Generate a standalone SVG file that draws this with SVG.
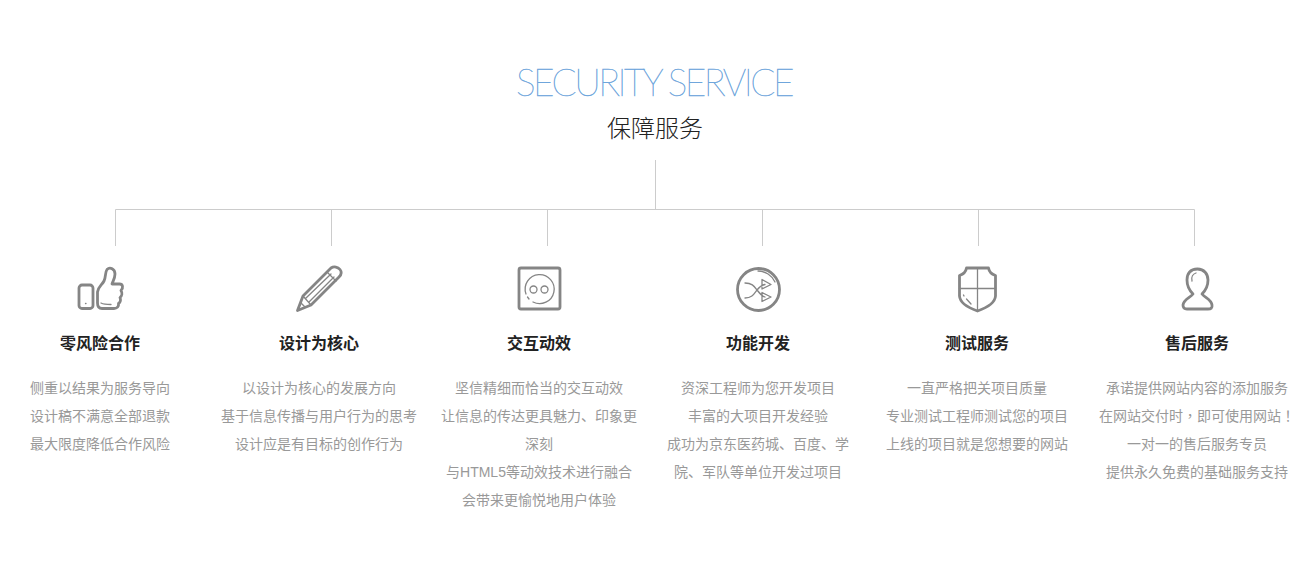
<svg xmlns="http://www.w3.org/2000/svg" width="1306" height="581" viewBox="0 0 1306 581">
<style>
text{text-anchor:middle;font-family:"Liberation Sans","Noto Sans CJK SC",sans-serif}
.d{font-size:14px;fill:#999}
.h{font-size:16px;font-weight:700;fill:#222}
.c{fill:none;stroke:#ccc;stroke-width:1}
.i{fill:none;stroke:#858585;stroke-width:2.800;stroke-linejoin:round;stroke-linecap:round}
.t{fill:none;stroke:#858585;stroke-width:1.300;stroke-linecap:round;stroke-linejoin:round}
.p{font-family:"Noto Sans CJK TC",sans-serif}
</style>
<rect width="1306" height="581" fill="#fff"/>
<g id="header">
<text x="654" y="96" style="font-family:Lato,'Open Sans',sans-serif;font-weight:100;font-size:37px;letter-spacing:-2.550px" fill="#6fa6dc" stroke="#6fa6dc" stroke-width="0.450">SECURITY SERVICE</text>
<text x="655" y="137" style="font-family:'Noto Sans CJK SC',sans-serif;font-size:24px;font-weight:300" fill="#222">保障服务</text>
</g>
<g id="connectors">
<path class="c" d="M655.500 160V209.500M115.500 246V209.500H1194.500V246M331.500 209.500V246M547.500 209.500V246M762.500 209.500V246M978.500 209.500V246"/>
</g>
<g id="node1">
<rect class="i" x="79" y="285" width="14" height="23.500" rx="3"/>
<path class="i" d="M97.500 292C98 287 102 285 104 281C106 277 105 272 107 269.500C110 266.500 115 269 115 274C115 278 113 281 112 284H119.500C123 284 123.500 288 121 290.500C122.500 293 122 296 120 297.500C121 300 120 302.500 118.500 303.500C119 306.500 117 308.500 114 308.500H102C99 308.500 97.500 306.500 97.500 303Z"/>
<path class="t" d="M85.500 303.500h.5M101 303c3 1.500 6 1.500 10 1.500"/>
<text class="h" x="100" y="349">零风险合作</text>
<text class="d"><tspan x="100" y="393">侧重以结果为服务导向</tspan><tspan x="100" y="421">设计稿不满意全部退款</tspan><tspan x="100" y="449">最大限度降低合作风险</tspan></text>
</g>
<g id="node2">
<path class="i" d="M297.500 310.500L303 296L331 268C334 266 338 267 340 269.500C342 272 341 275 339 277L311 305Z"/>
<path class="t" d="M303 296L311 305M327 272L336 281M306 298L331 274M309 302L334 277M297.500 310.500L301 303L305 307Z"/>
<text class="h" x="319" y="349">设计为核心</text>
<text class="d"><tspan x="319" y="393">以设计为核心的发展方向</tspan><tspan x="319" y="421">基于信息传播与用户行为的思考</tspan><tspan x="319" y="449">设计应是有目标的创作行为</tspan></text>
</g>
<g id="node3">
<rect class="i" x="519" y="268" width="41" height="41" rx="2"/>
<path class="t" d="M526 294A14.500 14.500 0 1 1 533 302M527.500 297l1.500 2"/>
<circle class="t" cx="533.500" cy="289.500" r="3.500"/>
<circle class="t" cx="544.500" cy="289.500" r="3.500"/>
<text class="h" x="539" y="349">交互动效</text>
<text class="d"><tspan x="539" y="393">坚信精细而恰当的交互动效</tspan><tspan x="539" y="421">让信息的传达更具魅力、印象更</tspan><tspan x="539" y="449">深刻</tspan><tspan x="539" y="477">与HTML5等动效技术进行融合</tspan><tspan x="539" y="505">会带来更愉悦地用户体验</tspan></text>
</g>
<g id="node4">
<circle class="i" cx="758.500" cy="289.500" r="21"/>
<path class="t" d="M745 283C752 283 754 286 757 290C760 294 762 296 765 297M745 298C752 298 754 294 757 290C760 286 762 285 765 284.500M762 279.500L771 284.500L762 289ZM762 292.500L771 297L762 301.500ZM758 271A19 19 0 0 1 775 282"/>
<text class="h" x="758" y="349">功能开发</text>
<text class="d"><tspan x="758" y="393">资深工程师为您开发项目</tspan><tspan x="758" y="421">丰富的大项目开发经验</tspan><tspan x="758" y="449">成功为京东医药城、百度、学</tspan><tspan x="758" y="477">院、军队等单位开发过项目</tspan></text>
</g>
<g id="node5">
<path class="i" d="M966.500 268H988.500C989 271 991 274 995.500 275.500V296C995 303 986 308 977.500 311C969 308 960 303 959.500 296V275.500C964 274 966 271 966.500 268Z"/>
<path class="t" d="M977.500 268V311M959.500 288.500H995.500M963.500 295L964 296M966.500 299L971 304"/>
<text class="h" x="977" y="349">测试服务</text>
<text class="d"><tspan x="977" y="393">一直严格把关项目质量</tspan><tspan x="977" y="421">专业测试工程师测试您的项目</tspan><tspan x="977" y="449">上线的项目就是您想要的网站</tspan></text>
</g>
<g id="node6">
<path class="i" d="M1197.500 269C1190 269 1187 274 1187 280C1187 286 1190 291 1193 294C1190 298 1184 299 1183 305C1183 308 1185 309 1187 309H1208C1211 309 1212.500 308 1212 305C1211 299 1205 298 1202 294C1205 291 1208 286 1208 280C1208 274 1204 269 1197.500 269Z"/>
<path class="t" d="M1192 281C1191 277 1193 274 1196 273"/>
<text class="h" x="1197" y="349">售后服务</text>
<text class="d"><tspan x="1197" y="393">承诺提供网站内容的添加服务</tspan><tspan x="1197" y="421">在网站交付时<tspan class="p">，</tspan>即可使用网站<tspan class="p">！</tspan></tspan><tspan x="1197" y="449">一对一的售后服务专员</tspan><tspan x="1197" y="477">提供永久免费的基础服务支持</tspan></text>
</g>
</svg>
